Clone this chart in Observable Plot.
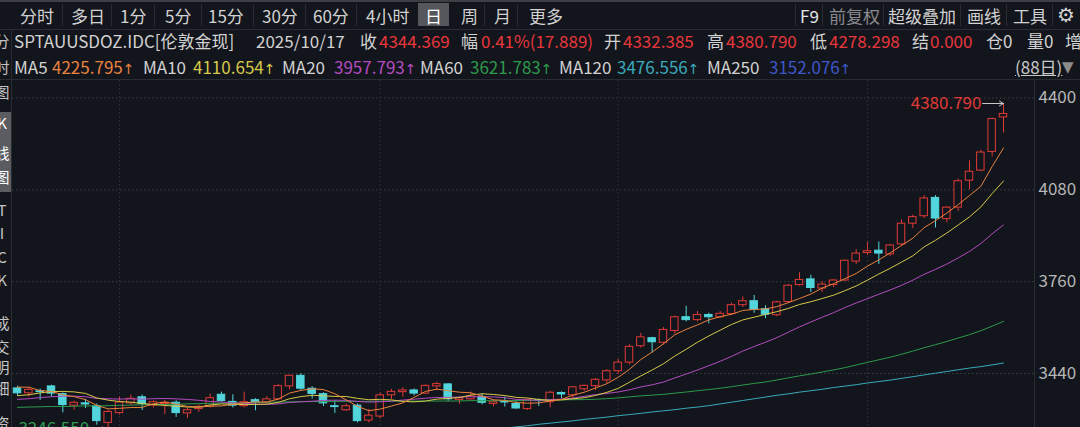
<!DOCTYPE html>
<html><head><meta charset="utf-8">
<script src="https://cdn.jsdelivr.net/npm/d3@7"></script>
<script src="https://cdn.jsdelivr.net/npm/@observablehq/plot@0.6"></script>
<style>
html,body{margin:0;padding:0;width:1080px;height:427px;overflow:hidden;background:#13151c;font-family:"Noto Sans CJK SC","Noto Sans",sans-serif;}
#root{position:relative;width:1080px;height:427px;overflow:hidden;}
.t{position:absolute;white-space:nowrap;font-size:17px;line-height:20px;color:#d2d2d2;}
.r{color:#e8373b;}
.sep{position:absolute;background:#2a2c33;}
.side{position:absolute;left:-6px;width:16px;height:16px;text-align:center;font-size:15px;line-height:16px;color:#c4c4c4;overflow:hidden;}
.ar{font-family:"DejaVu Sans";font-size:14px;}
#chart{position:absolute;left:0;top:80px;}
</style></head>
<body><div id="root">
<!-- toolbar -->
<div class="sep" style="left:0;top:0;width:1080px;height:2px;background:#3c3e44"></div>
<div style="position:absolute;left:418px;top:3px;width:31px;height:23px;background:#55575d"></div>
<div class="t" style="left:20px;top:6px">分时</div>
<div class="t" style="left:71px;top:6px">多日</div>
<div class="t" style="left:120px;top:6px">1分</div>
<div class="t" style="left:165px;top:6px">5分</div>
<div class="t" style="left:208px;top:6px">15分</div>
<div class="t" style="left:262px;top:6px">30分</div>
<div class="t" style="left:313px;top:6px">60分</div>
<div class="t" style="left:366px;top:6px">4小时</div>
<div class="t" style="left:425px;top:6px;color:#fff">日</div>
<div class="t" style="left:461px;top:6px">周</div>
<div class="t" style="left:494px;top:6px">月</div>
<div class="t" style="left:529px;top:6px">更多</div>
<div class="t" style="left:800px;top:6px;color:#e6e6e6">F9</div>
<div class="t" style="left:829px;top:6px;color:#8a8b8f">前复权</div>
<div class="t" style="left:888px;top:6px">超级叠加</div>
<div class="t" style="left:967px;top:6px">画线</div>
<div class="t" style="left:1013px;top:6px">工具</div>
<div class="t" style="left:1057px;top:5px;font-family:'DejaVu Sans';font-size:20px">⚙</div>
<div class="sep" style="left:62px;top:4px;width:1px;height:22px"></div>
<div class="sep" style="left:111px;top:4px;width:1px;height:22px"></div>
<div class="sep" style="left:154px;top:4px;width:1px;height:22px"></div>
<div class="sep" style="left:201px;top:4px;width:1px;height:22px"></div>
<div class="sep" style="left:253px;top:4px;width:1px;height:22px"></div>
<div class="sep" style="left:305px;top:4px;width:1px;height:22px"></div>
<div class="sep" style="left:356px;top:4px;width:1px;height:22px"></div>
<div class="sep" style="left:484px;top:4px;width:1px;height:22px"></div>
<div class="sep" style="left:517px;top:4px;width:1px;height:22px"></div>
<div class="sep" style="left:795px;top:4px;width:1px;height:22px"></div>
<div class="sep" style="left:822px;top:4px;width:1px;height:22px"></div>
<div class="sep" style="left:883px;top:4px;width:1px;height:22px"></div>
<div class="sep" style="left:960px;top:4px;width:1px;height:22px"></div>
<div class="sep" style="left:1006px;top:4px;width:1px;height:22px"></div>
<div class="sep" style="left:1052px;top:4px;width:1px;height:22px"></div>
<div class="sep" style="left:0;top:29px;width:1080px;height:1px"></div>
<!-- info row -->
<div class="t" style="left:14px;top:31px">SPTAUUSDOZ.IDC[伦敦金现]</div>
<div class="t" style="left:256px;top:31px">2025/10/17</div>
<div class="t" style="left:360px;top:31px">收</div><div class="t r" style="left:379px;top:31px">4344.369</div>
<div class="t" style="left:461px;top:31px">幅</div><div class="t r" style="left:481px;top:31px">0.41%(17.889)</div>
<div class="t" style="left:604px;top:31px">开</div><div class="t r" style="left:623px;top:31px">4332.385</div>
<div class="t" style="left:707px;top:31px">高</div><div class="t r" style="left:726px;top:31px">4380.790</div>
<div class="t" style="left:810px;top:31px">低</div><div class="t r" style="left:829px;top:31px">4278.298</div>
<div class="t" style="left:912px;top:31px">结</div><div class="t r" style="left:930px;top:31px">0.000</div>
<div class="t" style="left:986px;top:31px">仓0</div>
<div class="t" style="left:1027px;top:31px">量0</div>
<div class="t" style="left:1065px;top:31px">增</div>
<!-- MA row -->
<div class="t" style="left:14px;top:57px">MA5</div><div class="t" style="left:52px;top:57px;color:#e8823e">4225.795<span class="ar">↑</span></div>
<div class="t" style="left:143px;top:57px">MA10</div><div class="t" style="left:193px;top:57px;color:#d6c84a">4110.654<span class="ar">↑</span></div>
<div class="t" style="left:282px;top:57px">MA20</div><div class="t" style="left:334px;top:57px;color:#b44cc0">3957.793<span class="ar">↑</span></div>
<div class="t" style="left:420px;top:57px">MA60</div><div class="t" style="left:470px;top:57px;color:#2c9a4c">3621.783<span class="ar">↑</span></div>
<div class="t" style="left:559px;top:57px">MA120</div><div class="t" style="left:617px;top:57px;color:#3aa9bb">3476.556<span class="ar">↑</span></div>
<div class="t" style="left:707px;top:57px">MA250</div><div class="t" style="left:769px;top:57px;color:#3d57c9">3152.076<span class="ar">↑</span></div>
<div class="t" style="left:1015px;top:57px;text-decoration:underline;color:#c8c8c8">(88日)</div>
<div class="t" style="left:1062px;top:57px;color:#8c8c8c;font-family:'DejaVu Sans';font-size:15px">▼</div>
<div class="sep" style="left:0;top:79px;width:1080px;height:1px"></div>
<!-- sidebar -->
<div class="sep" style="left:11px;top:30px;width:1px;height:397px"></div>
<div style="position:absolute;left:0;top:112px;width:11px;height:80px;background:#5a5c62"></div>
<div class="side" style="top:33px">分</div>
<div class="side" style="top:59px">时</div>
<div class="side" style="top:84px">图</div>
<div class="side" style="top:115px;color:#fff">K</div>
<div class="side" style="top:145px;color:#fff">线</div>
<div class="side" style="top:169px;color:#fff">图</div>
<div class="side" style="top:202px">T</div>
<div class="side" style="top:225px">I</div>
<div class="side" style="top:249px">C</div>
<div class="side" style="top:272px">K</div>
<div class="side" style="top:315px">成</div>
<div class="side" style="top:339px">交</div>
<div class="side" style="top:359px">明</div>
<div class="side" style="top:380px">细</div>
<div class="side" style="top:415px">资</div>
<div class="sep" style="left:1034px;top:80px;width:1px;height:347px"></div>
<div id="chart"></div>
</div>
<script>
const dates = ["06-18","06-19","06-20","06-23","06-24","06-25","06-26","06-27","06-30","07-01",
"07-02","07-03","07-04","07-07","07-08","07-09","07-10","07-11","07-14","07-15",
"07-16","07-17","07-18","07-21","07-22","07-23","07-24","07-25","07-28","07-29",
"07-30","07-31","08-01","08-04","08-05","08-06","08-07","08-08","08-11","08-12",
"08-13","08-14","08-15","08-18","08-19","08-20","08-21","08-22","08-25","08-26",
"08-27","08-28","08-29","09-01","09-02","09-03","09-04","09-05","09-08","09-09",
"09-10","09-11","09-12","09-15","09-16","09-17","09-18","09-19","09-22","09-23",
"09-24","09-25","09-26","09-29","09-30","10-01","10-02","10-03","10-06","10-07",
"10-08","10-09","10-10","10-13","10-14","10-15","10-16","10-17"];
const opens = [3388,3371,3378,3395,3368,3328,3336,3326,3268,3302,
3336,3357,3328,3334,3338,3301,3316,3325,3366,3341,
3326,3347,3339,3350,3395,3432,3387,3368,3326,3312,
3328,3276,3290,3364,3375,3381,3370,3395,3402,3348,
3350,3358,3334,3341,3334,3316,3347,3340,3372,3364,
3385,3396,3416,3448,3478,3535,3563,3547,3588,3636,
3626,3644,3636,3647,3678,3692,3664,3643,3689,3748,
3768,3736,3748,3764,3830,3860,3868,3855,3890,3962,
3988,4052,3978,4018,4112,4147,4212,4332.385];
const highs = [3396,3392,3386,3399,3372,3343,3350,3334,3312,3358,
3365,3365,3345,3345,3345,3320,3330,3368,3375,3366,
3375,3352,3360,3402,3434,3439,3394,3373,3345,3333,
3334,3315,3372,3385,3390,3386,3400,3410,3405,3360,
3375,3370,3345,3358,3345,3350,3352,3378,3376,3394,
3400,3423,3453,3490,3540,3580,3566,3600,3640,3674,
3656,3650,3656,3685,3707,3712,3676,3692,3750,3791,
3782,3760,3768,3835,3872,3897,3898,3890,3975,3992,
4060,4060,4022,4118,4181,4218,4330,4380.79];
const lows = [3362,3358,3346,3358,3303,3312,3318,3260,3246.55,3296,
3329,3311,3320,3297,3287,3283,3305,3320,3340,3320,
3320,3310,3333,3345,3383,3381,3351,3325,3301,3308,
3268,3268,3282,3349,3357,3362,3366,3380,3342,3332,
3347,3331,3324,3323,3315,3311,3325,3321,3352,3351,
3378,3380,3405,3436,3470,3528,3512,3540,3578,3620,
3620,3613,3632,3642,3670,3650,3631,3638,3685,3744,
3722,3722,3740,3760,3820,3852,3820,3848,3884,3945,
3980,3947,3965,4005,4080,4143,4195,4278.298];
const closes = [3371,3383,3375,3370,3330,3338,3332,3274,3306,3339,
3352,3334,3340,3338,3302,3312,3324,3354,3344,3328,
3340,3340,3350,3396,3432,3387,3369,3336,3323,3326,
3274,3293,3364,3376,3381,3370,3397,3403,3350,3354,
3360,3338,3340,3339,3318,3347,3344,3373,3367,3392,
3397,3418,3448,3478,3533,3566,3549,3592,3636,3626,
3644,3636,3648,3678,3692,3662,3645,3688,3746,3766,
3738,3750,3764,3833,3858,3866,3858,3886,3962,3985,
4050,3980,4018,4110,4143,4210,4326.48,4344.369];
const ma5 = [3392.6,3392.2,3380.6,3377.6,3365.8,3359.2,3349.0,3328.8,3316.8,3318.6,
3321.4,3321.8,3335.0,3340.6,3333.2,3325.2,3323.2,3326.0,3327.2,3332.4,
3338.0,3341.2,3340.4,3350.8,3371.6,3381.0,3386.8,3384.0,3369.4,3348.2,
3325.6,3310.4,3316.0,3326.6,3337.6,3356.8,3377.6,3385.4,3380.2,3374.8,
3372.8,3361.0,3348.4,3346.2,3339.0,3336.4,3337.6,3344.2,3349.8,3364.6,
3374.6,3389.4,3404.4,3426.6,3454.8,3488.6,3514.8,3543.6,3575.2,3593.8,
3609.4,3626.8,3638.0,3646.4,3659.6,3663.2,3665.0,3673.0,3686.6,3701.4,
3716.6,3737.6,3752.8,3770.2,3788.6,3814.2,3835.8,3860.2,3886.0,3911.4,
3948.2,3972.6,3999.0,4028.6,4060.2,4092.2,4161.4,4225.8];
const ma10 = [3362.8,3365.9,3372.4,3376.8,3377.5,3375.9,3370.6,3354.7,3347.2,3342.2,
3340.3,3335.4,3331.9,3328.7,3325.9,3323.3,3322.5,3330.5,3333.9,3332.8,
3331.6,3332.2,3333.2,3339.0,3352.0,3359.5,3364.0,3362.2,3360.1,3359.9,
3353.3,3348.6,3350.0,3348.0,3342.9,3341.2,3344.0,3350.7,3353.4,3356.2,
3364.8,3369.3,3366.9,3363.2,3356.9,3354.6,3349.3,3346.3,3348.0,3351.8,
3355.5,3363.5,3374.3,3388.2,3409.7,3431.6,3452.1,3474.0,3500.9,3524.3,
3549.0,3570.8,3590.8,3610.8,3626.7,3636.3,3645.9,3655.5,3666.5,3680.5,
3689.9,3701.3,3712.9,3728.4,3745.0,3765.4,3786.7,3806.5,3828.1,3850.0,
3881.2,3904.2,3929.6,3957.3,3985.8,4020.2,4067.0,4110.7];
const ma20 = [3350,3352,3356,3359,3361,3361,3359,3353,3352,3351,
3351.6,3350.7,3352.2,3352.8,3351.7,3349.6,3346.6,3342.6,3340.6,3337.5,
3336.0,3333.8,3332.6,3333.9,3339.0,3341.4,3343.3,3346.4,3347.0,3346.4,
3342.5,3340.4,3341.6,3343.5,3347.5,3350.4,3354.0,3356.5,3356.8,3358.1,
3359.1,3359.0,3358.5,3355.6,3349.9,3347.9,3346.7,3348.5,3350.7,3354.0,
3360.2,3366.4,3370.6,3375.7,3383.3,3393.1,3400.7,3410.2,3424.5,3438.1,
3452.3,3467.2,3482.6,3499.5,3518.2,3534.0,3549.0,3564.8,3583.7,3602.4,
3619.5,3636.0,3651.9,3669.6,3685.9,3700.9,3716.3,3731.0,3747.3,3765.3,
3785.6,3802.8,3821.3,3842.9,3865.4,3892.8,3926.9,3957.8];
const ma60 = [3322,3323,3324,3325,3325,3326,3327,3327,3328,3329,
3330,3331,3332,3332,3333,3334,3335,3336,3337,3337,
3338,3339,3340,3341,3341,3342,3342,3342,3343,3343,
3343,3343,3344,3344,3344,3344,3344,3344,3344,3344.3,
3345.4,3345.2,3344.9,3345.6,3345.7,3346.1,3346.8,3348.2,3348.0,3348.7,
3349.1,3350.2,3352.5,3355.0,3358.5,3362.0,3364.7,3367.3,3371.5,3375.5,
3380.0,3384.2,3388.8,3393.9,3399.9,3405.3,3410.5,3417.4,3424.7,3431.8,
3438.2,3445.1,3452.2,3460.4,3469.7,3478.9,3487.8,3496.7,3507.0,3518.0,
3529.8,3540.5,3551.6,3563.5,3575.3,3589.0,3605.0,3621.8];
const ma120 = [3078,3082,3086,3090,3094,3098,3101,3105,3109,3113,
3117,3121,3125,3129,3133,3137,3141,3145,3149,3152,
3156,3160,3164,3168,3172,3176,3180,3184,3188,3192,
3196,3200,3204,3208,3212,3216,3220,3224,3228,3232,
3236,3240,3245,3250,3254,3258,3263,3267,3271,3275,
3280,3284,3288,3293,3297,3301,3306,3310,3314,3319,
3323,3328,3334,3340,3346,3352,3358,3364,3369,3375,
3380,3385,3391,3396,3401,3407,3412,3417,3423,3429,
3435,3441,3447,3453,3459,3464,3470,3476.6];
const yTicks = [3440, 3760, 4080, 4400];

const BG = "#13151c", RED = "#e03a36", CYAN = "#52d6dc", GREEN = "#2f9c52";
const candles = dates.map((d, i) => ({i, date: d, open: opens[i], high: highs[i], low: lows[i], close: closes[i]}));
const up = candles.filter(d => d.close >= d.open);
const down = candles.filter(d => d.close < d.open);
const monthStarts = candles.filter((d, i) => i > 0 && d.date.slice(0, 2) !== dates[i - 1].slice(0, 2));
const hi = candles.reduce((a, b) => b.high > a.high ? b : a);
const lo = candles.reduce((a, b) => b.low < a.low ? b : a);
const maLines = [
  {values: ma120, color: "#3aa9bb"},
  {values: ma60, color: "#2c9a4c"},
  {values: ma20, color: "#b44cc0"},
  {values: ma10, color: "#d6c84a"},
  {values: ma5, color: "#e8823e"}
];

const chart = Plot.plot({
  width: 1080, height: 360,
  marginLeft: 12, marginRight: 46, marginTop: 0, marginBottom: 0,
  style: {background: "transparent", color: "#b6b6b6", fontSize: "17px", fontFamily: "Noto Sans CJK SC, sans-serif"},
  x: {type: "linear", domain: [0, 87], range: [17, 1003], axis: null},
  y: {domain: [3440, 4400], range: [293, 17.5], ticks: yTicks, tickFormat: "d", tickSize: 0, tickPadding: 4, axis: "right", label: null},
  marks: [
    Plot.ruleY(yTicks, {y: d => d, stroke: "#3b3e47", strokeDasharray: "1.5,2.5"}),
    Plot.ruleX(monthStarts, {x: "i", stroke: "#2f323a", strokeDasharray: "1.5,2.5"}),
    Plot.ruleX(up, {x: "i", y1: "low", y2: "high", stroke: RED, clip: true}),
    Plot.ruleX(down, {x: "i", y1: "low", y2: "high", stroke: CYAN, clip: true}),
    Plot.rect(up, {x1: d => d.i - 0.33, x2: d => d.i + 0.33, y1: "open", y2: "close", fill: BG, stroke: RED, clip: true}),
    Plot.rect(down, {x1: d => d.i - 0.33, x2: d => d.i + 0.33, y1: "open", y2: "close", fill: CYAN, stroke: CYAN, clip: true}),
    ...maLines.map(m => Plot.lineY(m.values, {x: (d, i) => i, y: d => d, stroke: m.color, strokeWidth: 1, clip: true})),
    Plot.text([hi], {x: "i", y: "high", text: d => d.high.toFixed(3), textAnchor: "end", dx: -22, fill: RED, fontSize: 17}),
    Plot.arrow([hi], {x1: d => d.i - 1.85, x2: "i", y1: "high", y2: "high", stroke: "#c8c8c8", strokeWidth: 1, headLength: 7}),
    Plot.text([lo], {x: "i", y: "low", text: d => d.low.toFixed(3), textAnchor: "end", dx: -19, fill: GREEN, fontSize: 17}),
    Plot.arrow([lo], {x1: d => d.i - 1.4, x2: d => d.i - 0.2, y1: "low", y2: "low", stroke: "#c8c8c8", strokeWidth: 1, headLength: 6})
  ]
});
document.getElementById("chart").appendChild(chart);
</script>
</body></html>
